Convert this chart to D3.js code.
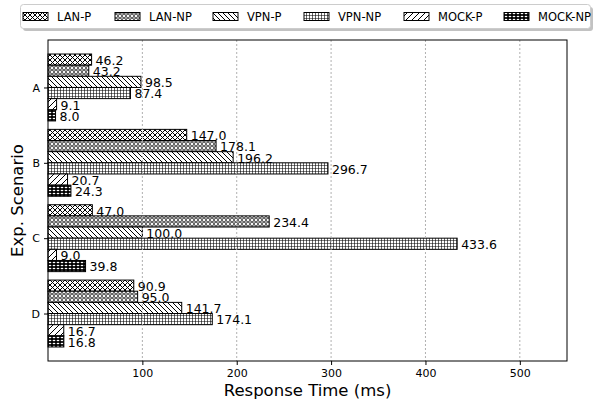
<!DOCTYPE html>
<html><head><meta charset="utf-8">
<script src="https://cdn.jsdelivr.net/npm/d3@7"></script>
<style>body{margin:0;background:#fff}svg{display:block;font-family:"DejaVu Sans",sans-serif}</style>
</head><body><svg id="c" width="594" height="400"></svg>
<script>
const categories = ["A","B","C","D"];
const seriesNames = ["LAN-P","LAN-NP","VPN-P","VPN-NP","MOCK-P","MOCK-NP"];
const lanP   = [46.2, 147.0, 47.0, 90.9];
const lanNP  = [43.2, 178.1, 234.4, 95.0];
const vpnP   = [98.5, 196.2, 100.0, 141.7];
const vpnNP  = [87.4, 296.7, 433.6, 174.1];
const mockP  = [9.1, 20.7, 9.0, 16.7];
const mockNP = [8.0, 24.3, 39.8, 16.8];
const xTicks = [100,200,300,400,500];
const seriesValues = [lanP, lanNP, vpnP, vpnNP, mockP, mockNP];

const svg = d3.select("#c");
const defs = svg.append("defs");
const patIds = ["pLanP","pLanNP","pVpnP","pVpnNP","pMockP","pMockNP"];
function pat(id,w,h,bg){
  const p = defs.append("pattern").attr("id",id).attr("patternUnits","userSpaceOnUse").attr("width",w).attr("height",h);
  p.append("rect").attr("width",w).attr("height",h).attr("fill",bg||"#fff");
  return p;
}
let p;
p = pat("pLanP",5,5);
p.append("path").attr("d","M0,0L5,5M0,5L5,0").attr("stroke","#000").attr("stroke-width",1);
p = pat("pLanNP",4,4);
p.append("circle").attr("cx",2).attr("cy",2).attr("r",1.4).attr("fill","none").attr("stroke","#000").attr("stroke-width",0.8);
p = pat("pVpnP",5,5);
p.append("path").attr("d","M0,0L5,5M-1,4L1,6M4,-1L6,1").attr("stroke","#000").attr("stroke-width",1);
p = pat("pVpnNP",3,3);
p.append("path").attr("d","M0,0L3,0M0,0L0,3").attr("stroke","#000").attr("stroke-width",1.2);
p = pat("pMockP",6,6);
p.append("path").attr("d","M0,6L6,0M-1,1L1,-1M5,7L7,5").attr("stroke","#000").attr("stroke-width",1);
p = pat("pMockNP",4,3,"#000");
p.append("ellipse").attr("cx",2).attr("cy",1.5).attr("rx",1.4).attr("ry",0.8).attr("fill","#fff");

const L=48,R=567,T=40,B=361;
const x = d3.scaleLinear().domain([0,550]).range([L,R]);
const y = d3.scaleLinear().domain([-0.63,3.63]).range([T,B]);
const bh = 0.148;

const g = svg.append("g");
seriesValues.forEach((vals,si)=>{
  g.selectAll(null).data(vals).enter().append("rect")
    .attr("x",x(0))
    .attr("y",(d,i)=>y(i+(si-3)*bh))
    .attr("width",d=>x(d)-x(0))
    .attr("height",y(bh)-y(0))
    .attr("fill",`url(#${patIds[si]})`)
    .attr("stroke","#000").attr("stroke-width",1);
});
svg.append("g").selectAll("line").data(xTicks).enter().append("line")
  .attr("x1",d=>x(d)).attr("x2",d=>x(d)).attr("y1",T).attr("y2",B)
  .attr("stroke","#b0b0b0").attr("stroke-width",1).attr("stroke-dasharray","2,2");
seriesValues.forEach((vals,si)=>{
  svg.append("g").selectAll("text").data(vals).enter().append("text")
    .attr("x",d=>x(d)+4)
    .attr("y",(d,i)=>y(i+(si-3)*bh+bh/2)+1)
    .attr("dy","0.35em").attr("font-size",12.5).attr("fill","#000")
    .text(d=>d.toFixed(1));
});
svg.append("rect").attr("x",L).attr("y",T).attr("width",R-L).attr("height",B-T)
  .attr("fill","none").attr("stroke","#000").attr("stroke-width",1);
const xa = svg.append("g").attr("transform",`translate(0,${B})`)
  .call(d3.axisBottom(x).tickValues(xTicks).tickSize(4).tickPadding(4).tickFormat(d3.format("d")));
xa.select(".domain").remove();
xa.selectAll("text").attr("font-size",11).attr("font-family","DejaVu Sans");
const ya = svg.append("g").attr("transform",`translate(${L},0)`)
  .call(d3.axisLeft(y).tickValues([0,1,2,3]).tickSize(4).tickPadding(4).tickFormat(i=>categories[i]));
ya.select(".domain").remove();
ya.selectAll("text").attr("font-size",11).attr("font-family","DejaVu Sans");
svg.append("text").attr("x",(L+R)/2).attr("y",396).attr("text-anchor","middle").attr("font-size",16.5).text("Response Time (ms)");
svg.append("text").attr("transform",`translate(23,${(T+B)/2}) rotate(-90)`).attr("text-anchor","middle").attr("font-size",16.5).text("Exp. Scenario");
const lg = svg.append("g");
lg.append("rect").attr("x",23).attr("y",7).attr("width",570).attr("height",24).attr("rx",3).attr("fill","#999").attr("opacity",0.6);
lg.append("rect").attr("x",20.5).attr("y",4.5).attr("width",570).attr("height",24).attr("rx",3).attr("fill","#fff").attr("stroke","#ccc").attr("stroke-width",1);
const legX = [23,115,213,304,404,504];
seriesNames.forEach((n,i)=>{
  lg.append("rect").attr("x",legX[i]).attr("y",12.5).attr("width",25).attr("height",8)
    .attr("fill",`url(#${patIds[i]})`).attr("stroke","#000").attr("stroke-width",1);
  lg.append("text").attr("x",legX[i]+34).attr("y",16.5).attr("dy","0.35em").attr("font-size",11.5).text(n);
});
</script></body></html>
